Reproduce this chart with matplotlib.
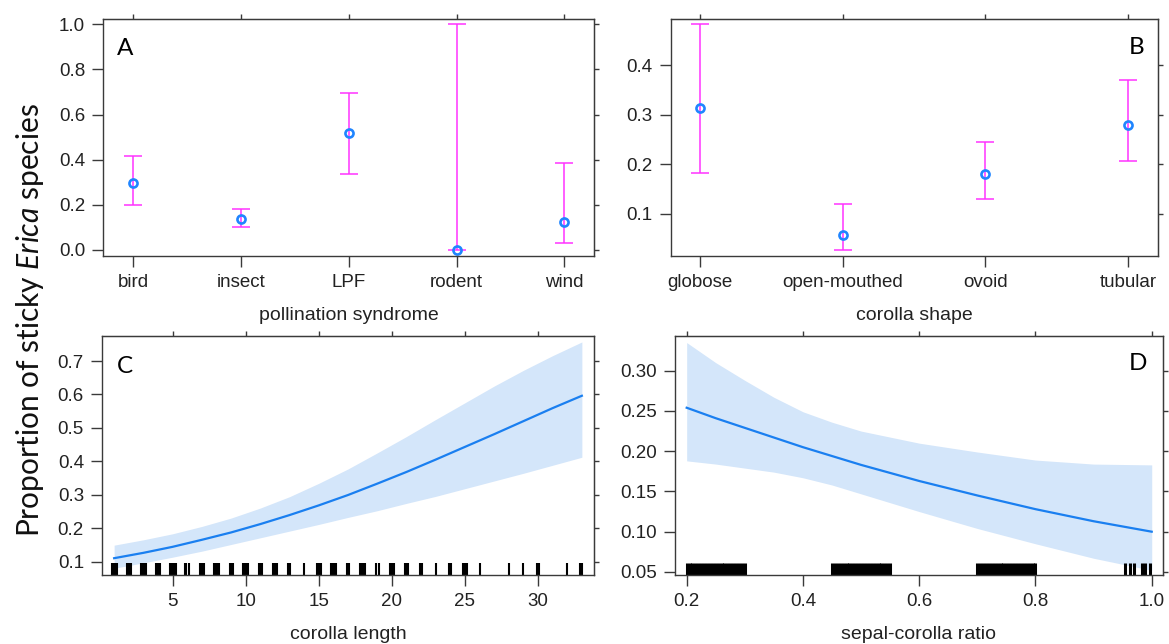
import matplotlib
matplotlib.use("Agg")
import matplotlib.pyplot as plt

plt.rcParams["font.family"] = ["Liberation Sans", "DejaVu Sans"]
plt.rcParams["mathtext.fontset"] = "custom"
plt.rcParams["mathtext.rm"] = "Lato"
plt.rcParams["mathtext.it"] = "Lato:italic"

# --- A: pollination syndrome
syndrome = ["bird", "insect", "LPF", "rodent", "wind"]
syn_est = [0.297, 0.137, 0.517, 0.0, 0.123]
syn_lo = [0.199, 0.103, 0.335, 0.0, 0.030]
syn_hi = [0.418, 0.180, 0.696, 1.0, 0.384]

# --- B: corolla shape
shape = ["globose", "open-mouthed", "ovoid", "tubular"]
shp_est = [0.314, 0.056, 0.181, 0.280]
shp_lo = [0.183, 0.027, 0.130, 0.206]
shp_hi = [0.483, 0.120, 0.246, 0.370]

# --- C: corolla length (fit + 95% band)
len_x = [1, 3, 5, 7, 9, 11, 13, 15, 17, 19, 21, 23, 25, 27, 29, 31, 33]
len_fit = [0.110, 0.126, 0.144, 0.165, 0.187, 0.212, 0.239, 0.268, 0.299,
           0.333, 0.368, 0.405, 0.443, 0.481, 0.520, 0.559, 0.596]
len_lo = [0.080, 0.096, 0.113, 0.131, 0.151, 0.171, 0.191, 0.211, 0.232,
          0.252, 0.274, 0.295, 0.318, 0.341, 0.364, 0.388, 0.412]
len_hi = [0.149, 0.165, 0.183, 0.205, 0.230, 0.260, 0.294, 0.334, 0.377,
          0.425, 0.474, 0.525, 0.575, 0.625, 0.672, 0.716, 0.757]
len_rug = [0.85, 0.95, 1.05, 1.15, 1.2, 1.85, 1.95, 2.05, 2.15,
           2.85, 2.95, 3.05, 3.15, 3.85, 3.95, 4.05, 4.15,
           4.8, 4.9, 5.0, 5.1, 5.2, 5.85, 5.95, 6.1,
           6.85, 6.95, 7.05, 7.15, 7.85, 7.95, 8.05, 8.15,
           8.95, 9.05, 9.15, 9.85, 9.95, 10.05, 10.15,
           10.9, 11.0, 11.1, 11.85, 12.0, 12.15, 12.9, 13.05, 14.0,
           14.85, 14.95, 15.05, 15.15, 15.85, 15.95, 16.05, 16.15,
           16.95, 17.1, 17.85, 17.95, 18.05, 18.15, 18.9, 19.15,
           19.85, 19.95, 20.05, 20.15, 20.9, 21.0, 21.1, 21.95, 22.05,
           23.0, 23.9, 24.05, 24.85, 24.95, 25.05, 25.15, 26.0,
           28.0, 29.0, 29.9, 30.0, 30.1, 32.0, 32.9, 33.0]

# --- D: sepal-corolla ratio
rat_x = [0.2, 0.25, 0.3, 0.35, 0.4, 0.45, 0.5, 0.6, 0.7, 0.8, 0.9, 1.0]
rat_fit = [0.254, 0.241, 0.229, 0.217, 0.205, 0.194, 0.183, 0.163, 0.145,
           0.128, 0.113, 0.100]
rat_lo = [0.188, 0.184, 0.179, 0.174, 0.167, 0.158, 0.147, 0.125, 0.104,
          0.085, 0.067, 0.052]
rat_hi = [0.335, 0.310, 0.288, 0.267, 0.249, 0.236, 0.225, 0.210, 0.199,
          0.189, 0.184, 0.183]
rat_rug = [0.200, 0.205, 0.210, 0.215, 0.220, 0.225, 0.230, 0.235, 0.240,
           0.245, 0.250, 0.255, 0.260, 0.265, 0.270, 0.275, 0.280, 0.285,
           0.290, 0.295, 0.300,
           0.450, 0.455, 0.460, 0.465, 0.470, 0.475, 0.480, 0.485, 0.490,
           0.495, 0.500, 0.505, 0.510, 0.515, 0.520, 0.525, 0.530, 0.535,
           0.540, 0.545, 0.550,
           0.700, 0.705, 0.710, 0.715, 0.720, 0.725, 0.730, 0.735, 0.740,
           0.745, 0.750, 0.755, 0.760, 0.765, 0.770, 0.775, 0.780, 0.785,
           0.790, 0.795, 0.800,
           0.954, 0.962, 0.969, 0.983, 0.989, 0.997]

EDGE = "#3a3a3a"
PT = "#1f85ff"
BAR = "#ff33ff"
LINE = "#1a7ff0"
BAND = "#d4e6fa"
W, H = 1169, 644


def box(l, r, t, b):
    return [l / W, 1 - b / H, (r - l) / W, (b - t) / H]


def frame(ax, xt, yt, ylab=None):
    ax.set_xticks(xt)
    ax.set_yticks(yt)
    if ylab is not None:
        ax.set_yticklabels(ylab)
    for s in ax.spines.values():
        s.set_color(EDGE); s.set_linewidth(1.0)
    ax.tick_params(direction="out", length=8, width=1, color=EDGE,
                   labelsize=13.5, labelcolor="#222222", pad=5)
    sx = ax.secondary_xaxis("top")
    sx.set_xticks(xt); sx.set_xticklabels([])
    sx.tick_params(direction="out", length=3.5, width=1, color=EDGE)
    sx.spines["top"].set_color(EDGE)
    sy = ax.secondary_yaxis("right")
    sy.set_yticks(yt); sy.set_yticklabels([])
    sy.tick_params(direction="out", length=3.5, width=1, color=EDGE)
    sy.spines["right"].set_color(EDGE)


def xlab(ax, text):
    ax.set_xlabel(text, fontsize=14, color="#222222")
    ax.xaxis.set_label_coords(0.5, -0.215)


fig = plt.figure(figsize=(W / 100, H / 100), dpi=100)
axA = fig.add_axes(box(103.3, 594.4, 19, 256))
axB = fig.add_axes(box(670.5, 1157.7, 19, 256))
axC = fig.add_axes(box(102, 593.7, 335.7, 575))
axD = fig.add_axes(box(675, 1162.7, 335.7, 575))

# A
xa = list(range(1, len(syndrome) + 1))
axA.errorbar(xa, syn_est, yerr=[[e - l for e, l in zip(syn_est, syn_lo)],
                                [h - e for e, h in zip(syn_est, syn_hi)]],
             fmt="none", ecolor=BAR, elinewidth=1.1, capsize=6.5, capthick=1.1)
axA.plot(xa, syn_est, "o", mfc="none", mec=PT, ms=5.8, mew=1.9)
axA.set_xlim(0.72, 5.28); axA.set_ylim(-0.0266, 1.0235)
frame(axA, xa, [0.0, 0.2, 0.4, 0.6, 0.8, 1.0])
axA.set_xticklabels(syndrome)
xlab(axA, "pollination syndrome")

# B
xb = list(range(1, len(shape) + 1))
axB.errorbar(xb, shp_est, yerr=[[e - l for e, l in zip(shp_est, shp_lo)],
                                [h - e for e, h in zip(shp_est, shp_hi)]],
             fmt="none", ecolor=BAR, elinewidth=1.1, capsize=6.5, capthick=1.1)
axB.plot(xb, shp_est, "o", mfc="none", mec=PT, ms=5.8, mew=1.9)
axB.set_xlim(0.793, 4.207); axB.set_ylim(0.0144, 0.494)
frame(axB, xb, [0.1, 0.2, 0.3, 0.4])
axB.set_xticklabels(shape)
xlab(axB, "corolla shape")

# C
axC.fill_between(len_x, len_lo, len_hi, color=BAND, lw=0)
axC.plot(len_x, len_fit, color=LINE, lw=1.6)
axC.vlines(len_rug, 0, 0.052, color="black", lw=1.5,
           transform=axC.get_xaxis_transform())
axC.set_xlim(0.17, 33.81); axC.set_ylim(0.0597, 0.7757)
frame(axC, [5, 10, 15, 20, 25, 30], [0.1, 0.2, 0.3, 0.4, 0.5, 0.6, 0.7])
xlab(axC, "corolla length")

# D
axD.fill_between(rat_x, rat_lo, rat_hi, color=BAND, lw=0)
axD.plot(rat_x, rat_fit, color=LINE, lw=1.6)
axD.vlines(rat_rug, 0, 0.052, color="black", lw=2.2,
           transform=axD.get_xaxis_transform())
axD.set_xlim(0.1799, 1.0189); axD.set_ylim(0.0462, 0.3435)
dy = [0.05, 0.10, 0.15, 0.20, 0.25, 0.30]
frame(axD, [0.2, 0.4, 0.6, 0.8, 1.0], dy, [f"{v:.2f}" for v in dy])
axD.set_xticklabels(["0.2", "0.4", "0.6", "0.8", "1.0"])
xlab(axD, "sepal-corolla ratio")

# panel letters
for ax, letter, px, py in [(axA, "A", 125, 48.5), (axB, "B", 1136.5, 48),
                           (axC, "C", 125, 366.5), (axD, "D", 1138, 364)]:
    fig.text(px / W, 1 - py / H, letter, family="Lato", fontsize=17.5,
             ha="center", va="center", color="black")

fig.text(30 / W, 1 - 320 / H, r"Proportion of sticky $Erica$ species",
         family="Lato", fontsize=21.5, rotation=90, ha="center", va="center",
         color="#111111")

fig.savefig("out.png", dpi=100)
